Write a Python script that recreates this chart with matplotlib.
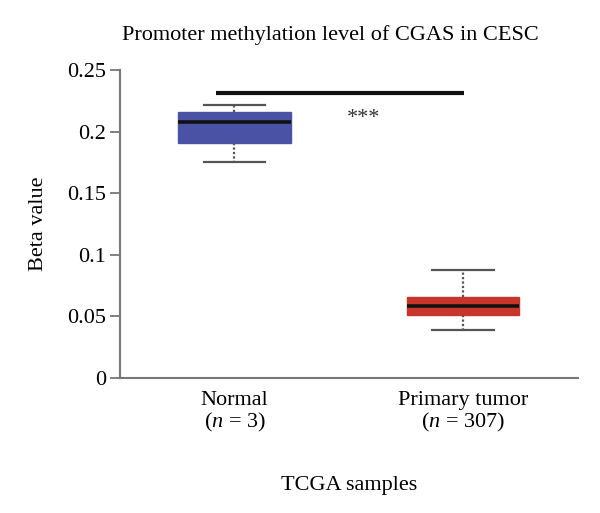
import matplotlib
matplotlib.use("Agg")
import matplotlib.pyplot as plt

# Box statistics
groups = ["Normal\n($n$ = 3)", "Primary tumor\n($n$ = 307)"]
medians = [0.208, 0.0587]
q1 = [0.191, 0.051]
q3 = [0.216, 0.066]
whisker_low = [0.175, 0.0387]
whisker_high = [0.222, 0.0875]
box_colors = ["#4a52a6", "#c8352a"]
sig_x = [0.92, 2.005]
sig_y = 0.231
stars_x, stars_y = 1.563, 0.211
yticks = [0, 0.05, 0.1, 0.15, 0.2, 0.25]
ytick_labels = ["0", "0.05", "0.1", "0.15", "0.2", "0.25"]

plt.rcParams["font.family"] = ["Liberation Serif", "DejaVu Serif"]
plt.rcParams["mathtext.fontset"] = "custom"
plt.rcParams["mathtext.it"] = "Liberation Serif:italic"
plt.rcParams["mathtext.rm"] = "Liberation Serif"

fig = plt.figure(figsize=(6, 5.13), dpi=100)
ax = fig.add_axes([0.2, 0.263, 0.763, 0.6005])

stats = []
for i in range(len(groups)):
    stats.append({
        "med": medians[i], "q1": q1[i], "q3": q3[i],
        "whislo": whisker_low[i], "whishi": whisker_high[i],
        "fliers": [], "label": groups[i],
    })

bp = ax.bxp(stats, positions=[1, 2], widths=0.49, patch_artist=True,
            showfliers=False, capwidths=0.27,
            medianprops=dict(color="#111111", linewidth=2.6),
            whiskerprops=dict(color="#555555", linestyle=(0, (1, 1)), linewidth=1.6),
            capprops=dict(color="#555555", linewidth=1.6))
for patch, c in zip(bp["boxes"], box_colors):
    patch.set_facecolor(c)
    patch.set_edgecolor(c)

# significance bar
ax.plot(sig_x, [sig_y, sig_y], color="#111111", linewidth=3, solid_capstyle="butt")
ax.text(stars_x, stars_y, "***", ha="center", va="center", fontsize=16, color="#333333")

ax.set_xlim(0.5, 2.5)
ax.set_ylim(0, 0.25)
ax.set_yticks(yticks)
ax.set_yticklabels(ytick_labels)
ax.set_xticks([1, 2])
ax.set_xticklabels(groups, linespacing=1.1)
ax.tick_params(axis="x", length=0, labelsize=16, pad=9)
ax.tick_params(axis="y", length=7, width=1.3, color="#777777", labelsize=16, pad=3)
for side in ["top", "right"]:
    ax.spines[side].set_visible(False)
for side in ["left", "bottom"]:
    ax.spines[side].set_color("#777777")
    ax.spines[side].set_linewidth(1.5)

ax.set_ylabel("Beta value", fontsize=16, labelpad=14)
ax.set_xlabel("TCGA samples", fontsize=16, labelpad=30)
fig.text(0.55, 0.932, "Promoter methylation level of CGAS in CESC", ha="center", va="center", fontsize=16)

fig.savefig("out.png", dpi=100)
